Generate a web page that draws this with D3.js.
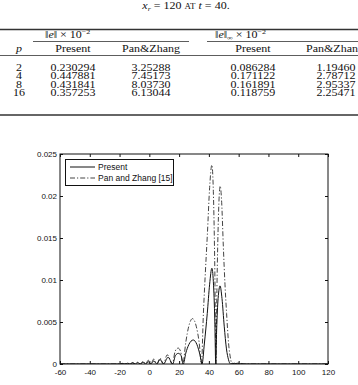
<!DOCTYPE html>
<html>
<head>
<meta charset="utf-8">
<script src="https://cdn.jsdelivr.net/npm/d3@7"></script>
<style>
  body { margin: 0; background: #fff; }
  svg { display: block; }
</style>
</head>
<body>
<svg id="chart" width="358" height="385"></svg>
<script>
// table values
var pValues = ["2", "4", "8", "16"];
var normPresent = ["0.230294", "0.447881", "0.431841", "0.357253"];
var normPan = ["3.25288", "7.45173", "8.03730", "6.13044"];
var infPresent = ["0.086284", "0.171122", "0.161891", "0.118759"];
var infPan = ["1.19460", "2.78712", "2.95337", "2.25471"];

// chart ticks
var xTicks = [-60, -40, -20, 0, 20, 40, 60, 80, 100, 120];
var yTicks = [0, 0.005, 0.01, 0.015, 0.02, 0.025];

// error curves, [x, |e|]
var present = [
  [-60, 0], [-20, 0],
  [-18.2, 0.00005], [-16.5, 0], [-14.7, 0.00008], [-13, 0],
  [-11.2, 0.00012], [-9.5, 0], [-7.7, 0.00016], [-6, 0],
  [-4.2, 0.00021], [-2.5, 0], [-0.7, 0.00028], [1, 0],
  [3, 0.00037], [5, 0], [7.2, 0.00055], [9.5, 0],
  [12.6, 0.0008], [15.7, 0],
  [17.5, 0.001], [19.5, 0.00127], [21.3, 0.001], [22.8, 0],
  [24.5, 0.0013], [26.5, 0.0023], [29.5, 0.00286], [32, 0.0023], [34, 0.0011], [35.4, 0],
  [37, 0.0025], [38.9, 0.006], [40.5, 0.0095], [42, 0.0114], [43, 0.0098], [44, 0.005], [44.6, 0],
  [45.2, 0.004], [46.2, 0.0078], [47.5, 0.0093], [48.8, 0.0078], [50.3, 0.0045], [51.8, 0.0018], [53.2, 0.0005], [54.5, 0],
  [56, 0.00008], [57.5, 0], [59, 0.0001], [60.5, 0], [62, 0.00006], [63.5, 0], [120, 0]
];
var panZhang = [
  [-60, 0], [-20, 0],
  [-18.2, 0.00008], [-16.5, 0], [-14.7, 0.00012], [-13, 0],
  [-11.2, 0.00018], [-9.5, 0], [-7.7, 0.00025], [-6, 0],
  [-4.2, 0.00033], [-2.5, 0], [-0.7, 0.00045], [1, 0],
  [3, 0.0006], [5, 0], [7.2, 0.0007], [9.5, 0],
  [12, 0.0011], [15.5, 0],
  [17.3, 0.0015], [19.3, 0.0019], [21, 0.0015], [22.5, 0],
  [24.5, 0.0026], [26.5, 0.0045], [29, 0.0054], [31.5, 0.0045], [33.5, 0.0025], [35, 0],
  [36.3, 0.006], [37.6, 0.0108], [39, 0.0155], [40.5, 0.021], [42, 0.0237], [43, 0.0205], [44, 0.011], [44.7, 0],
  [45.4, 0.009], [46.4, 0.0175], [47.6, 0.0212], [48.6, 0.0192], [49.7, 0.014], [50.8, 0.0095], [51.9, 0.006], [53.2, 0.0025], [54.6, 0.0006], [55.5, 0],
  [57, 0.0001], [58.5, 0], [60, 0.00012], [61.5, 0], [120, 0]
];

var svg = d3.select("#chart");
var serif = "'Liberation Serif', 'Times New Roman', serif";
var sans = "'Liberation Sans', Arial, sans-serif";
var sy = 0.8; // table text is squashed vertically in the source

// ---------- table ----------
function ttext(x, y, anchor) {
  return svg.append("text")
    .attr("transform", "translate(" + x + "," + y + ") scale(1," + sy + ")")
    .attr("text-anchor", anchor)
    .attr("font-family", serif)
    .attr("font-size", 12)
    .attr("fill", "#111");
}

var title = ttext(186, 9, "middle");
title.append("tspan").attr("font-style", "italic").text("x");
title.append("tspan").attr("font-style", "italic").attr("font-size", 8).attr("dy", 2).text("r");
title.append("tspan").attr("dy", -2).text(" = 120 ");
title.append("tspan").attr("font-size", 9).text("AT");
title.append("tspan").text(" ");
title.append("tspan").attr("font-style", "italic").text("t");
title.append("tspan").text(" = 40.");

function rule(x1, x2, yy, w) {
  svg.append("line")
    .attr("x1", x1).attr("x2", x2)
    .attr("y1", yy).attr("y2", yy)
    .attr("stroke", "#333")
    .attr("stroke-width", w);
}
rule(0, 358, 29.5, 1.3);
rule(33, 189, 41.5, 0.8);
rule(207, 358, 41.5, 0.8);
rule(0, 358, 55.5, 0.8);
rule(0, 358, 115, 1.3);

var h1 = ttext(45, 38, "start");
h1.append("tspan").text("\u2016");
h1.append("tspan").attr("font-style", "italic").text("e");
h1.append("tspan").text("\u2016 \u00d7 10");
h1.append("tspan").attr("font-size", 8).attr("dy", -5).text("\u22122");

var h2 = ttext(215, 38, "start");
h2.append("tspan").text("\u2016");
h2.append("tspan").attr("font-style", "italic").text("e");
h2.append("tspan").text("\u2016");
h2.append("tspan").attr("font-size", 8).attr("dy", 3).text("\u221e");
h2.append("tspan").attr("dy", -3).text(" \u00d7 10");
h2.append("tspan").attr("font-size", 8).attr("dy", -5).text("\u22122");

ttext(19, 52, "middle").attr("font-style", "italic").text("p");
ttext(73, 52, "middle").text("Present");
ttext(151, 52, "middle").text("Pan&Zhang");
ttext(253, 52, "middle").text("Present");
ttext(335, 52, "middle").text("Pan&Zhang");

var rowY = d3.scaleLinear().domain([0, 3]).range([71, 96]);
var cols = [
  {x: 19, vals: pValues},
  {x: 73, vals: normPresent},
  {x: 151, vals: normPan},
  {x: 253, vals: infPresent},
  {x: 336, vals: infPan}
];
cols.forEach(function(c) {
  c.vals.forEach(function(v, i) {
    ttext(c.x, rowY(i), "middle").text(v);
  });
});

// ---------- chart ----------
var pLeft = 60, pRight = 328, pTop = 154, pBottom = 364;
var x = d3.scaleLinear().domain([-60, 120]).range([pLeft, pRight]);
var y = d3.scaleLinear().domain([0, 0.025]).range([pBottom, pTop]);

svg.append("clipPath").attr("id", "plotclip")
  .append("rect")
  .attr("x", pLeft).attr("y", pTop - 1)
  .attr("width", pRight - pLeft).attr("height", pBottom - pTop + 1);

var line = d3.line()
  .x(function(d) { return x(d[0]); })
  .y(function(d) { return y(d[1]); })
  .curve(d3.curveMonotoneX);

var plot = svg.append("g").attr("clip-path", "url(#plotclip)");
plot.append("path")
  .datum(panZhang)
  .attr("d", line)
  .attr("fill", "none")
  .attr("stroke", "#444")
  .attr("stroke-width", 1)
  .attr("stroke-dasharray", "5,2,1.2,2");
plot.append("path")
  .datum(present)
  .attr("d", line)
  .attr("fill", "none")
  .attr("stroke", "#111")
  .attr("stroke-width", 1);

function styleAxis(g) {
  g.select(".domain").remove();
  g.selectAll("line").attr("stroke", "#111");
  g.selectAll("text").attr("fill", "#111").attr("font-family", sans).attr("font-size", 8);
}

svg.append("g")
  .attr("transform", "translate(0," + pBottom + ")")
  .call(d3.axisBottom(x).tickValues(xTicks).tickSizeInner(-3).tickSizeOuter(0).tickPadding(5)
    .tickFormat(function(d) { return String(d); }))
  .call(styleAxis);
svg.append("g")
  .attr("transform", "translate(0," + pTop + ")")
  .call(d3.axisTop(x).tickValues(xTicks).tickSizeInner(-3).tickSizeOuter(0).tickFormat(""))
  .call(styleAxis);
svg.append("g")
  .attr("transform", "translate(" + pLeft + ",0)")
  .call(d3.axisLeft(y).tickValues(yTicks).tickSizeInner(-3).tickSizeOuter(0).tickPadding(3)
    .tickFormat(function(d) { return d === 0 ? "0" : String(d); }))
  .call(styleAxis);
svg.append("g")
  .attr("transform", "translate(" + pRight + ",0)")
  .call(d3.axisRight(y).tickValues(yTicks).tickSizeInner(-3).tickSizeOuter(0).tickFormat(""))
  .call(styleAxis);

svg.append("rect")
  .attr("x", pLeft).attr("y", pTop)
  .attr("width", pRight - pLeft).attr("height", pBottom - pTop)
  .attr("fill", "none")
  .attr("stroke", "#111")
  .attr("stroke-width", 1);

// legend
var legend = svg.append("g");
legend.append("rect")
  .attr("x", 65.5).attr("y", 159.5)
  .attr("width", 108).attr("height", 26)
  .attr("fill", "#fff")
  .attr("stroke", "#111")
  .attr("stroke-width", 1);
var items = [
  {label: "Present", dash: null, color: "#111"},
  {label: "Pan and Zhang [15]", dash: "5,2,1.2,2", color: "#444"}
];
items.forEach(function(it, i) {
  var ly = 167 + i * 11;
  legend.append("line")
    .attr("x1", 70).attr("x2", 95)
    .attr("y1", ly).attr("y2", ly)
    .attr("stroke", it.color)
    .attr("stroke-width", 1)
    .attr("stroke-dasharray", it.dash);
  legend.append("text")
    .attr("x", 98).attr("y", ly + 3)
    .attr("font-family", sans)
    .attr("font-size", 8.5)
    .attr("fill", "#111")
    .text(it.label);
});
</script>
</body>
</html>
